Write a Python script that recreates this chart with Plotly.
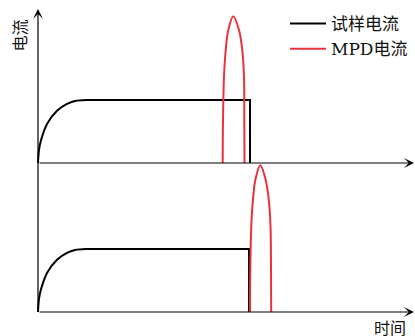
import plotly.graph_objects as go

# ---- data (time in arbitrary units, current in units of the sample plateau) ----
rise_t = [0, 1, 3, 9, 19, 29, 37, 48]
rise_i = [0, 0.21, 0.36, 0.62, 0.83, 0.94, 0.985, 1.0]

flat_up_t = [48, 212, 212]
flat_up_i = [1.0, 1.0, 0.0]
flat_lo_t = [48, 211, 211]
flat_lo_i = [1.0, 1.0, 0.0]

mpd_i = [0, 0.68, 1.37, 1.79, 2.11, 2.33, 2.11, 1.79, 1.37, 0.68, 0]
mpd_up_t = [184.7, 185.0, 186.0, 187.7, 190.3, 195.3, 201.0, 204.3, 206.0, 206.3, 206.5]
mpd_lo_t = [212.0, 212.3, 213.3, 215.0, 217.5, 222.3, 227.5, 230.7, 232.5, 233.0, 233.2]

legend_names = ["试样电流", "MPD电流"]
axis_labels = ["电流", "时间"]

BLACK = "#000000"
RED = "#E8333C"
FONT = "Liberation Serif, Noto Sans CJK SC, serif"
LEG_FONT = "DejaVu Serif, Noto Sans CJK SC, serif"

fig = go.Figure()

# upper panel (yaxis2)
fig.add_trace(go.Scatter(x=rise_t, y=rise_i, yaxis="y2", mode="lines",
                         line=dict(color=BLACK, width=2, shape="spline"),
                         name=legend_names[0], legendgroup="s", showlegend=True))
fig.add_trace(go.Scatter(x=flat_up_t, y=flat_up_i, yaxis="y2", mode="lines",
                         line=dict(color=BLACK, width=2),
                         legendgroup="s", showlegend=False))
# lower panel (yaxis)
fig.add_trace(go.Scatter(x=rise_t, y=rise_i, yaxis="y", mode="lines",
                         line=dict(color=BLACK, width=2, shape="spline"),
                         legendgroup="s", showlegend=False))
fig.add_trace(go.Scatter(x=flat_lo_t, y=flat_lo_i, yaxis="y", mode="lines",
                         line=dict(color=BLACK, width=2),
                         legendgroup="s", showlegend=False))
fig.add_trace(go.Scatter(x=mpd_up_t, y=mpd_i, yaxis="y2", mode="lines",
                         line=dict(color=RED, width=2, shape="spline"),
                         name=legend_names[1], legendgroup="m", showlegend=True))
fig.add_trace(go.Scatter(x=mpd_lo_t, y=mpd_i, yaxis="y", mode="lines",
                         line=dict(color=RED, width=2, shape="spline"),
                         legendgroup="m", showlegend=False))

arrow = dict(text="", showarrow=True, arrowhead=3, arrowsize=1.4,
             arrowwidth=1.2, arrowcolor=BLACK, axref="x", xref="x")
annotations = [
    dict(arrow, x=0, y=4.81, ax=0, ay=0, yref="y", ayref="y"),
    dict(arrow, x=376, y=0, ax=0, ay=0, yref="y2", ayref="y2"),
    dict(arrow, x=376, y=0, ax=0, ay=0, yref="y", ayref="y"),
    dict(text=axis_labels[0], showarrow=False, xref="paper", yref="paper",
         x=20.5 / 415, y=1 - 36 / 336, textangle=-90,
         xanchor="center", yanchor="middle",
         font=dict(family=FONT, size=16, color="#111111")),
    dict(text=axis_labels[1], showarrow=False, xref="paper", yref="paper",
         x=390 / 415, y=1 - 328 / 336, xanchor="center", yanchor="middle",
         font=dict(family=FONT, size=16, color="#111111")),
]

fig.update_layout(
    width=415, height=336,
    margin=dict(l=0, r=0, t=0, b=0),
    paper_bgcolor="white", plot_bgcolor="white",
    xaxis=dict(visible=False, range=[-38, 377], fixedrange=True),
    yaxis=dict(visible=False, range=[-24 / 63, 312 / 63], fixedrange=True),
    yaxis2=dict(visible=False, range=[-(336 - 163) / 63, 163 / 63],
                overlaying="y", fixedrange=True),
    showlegend=True,
    legend=dict(x=285 / 415, y=1 - 6 / 336, xanchor="left", yanchor="top",
                bgcolor="rgba(0,0,0,0)", font=dict(family=LEG_FONT, size=17, color="#111111"),
                tracegroupgap=0, itemwidth=36),
    annotations=annotations,
)

fig.write_html("out.html")
